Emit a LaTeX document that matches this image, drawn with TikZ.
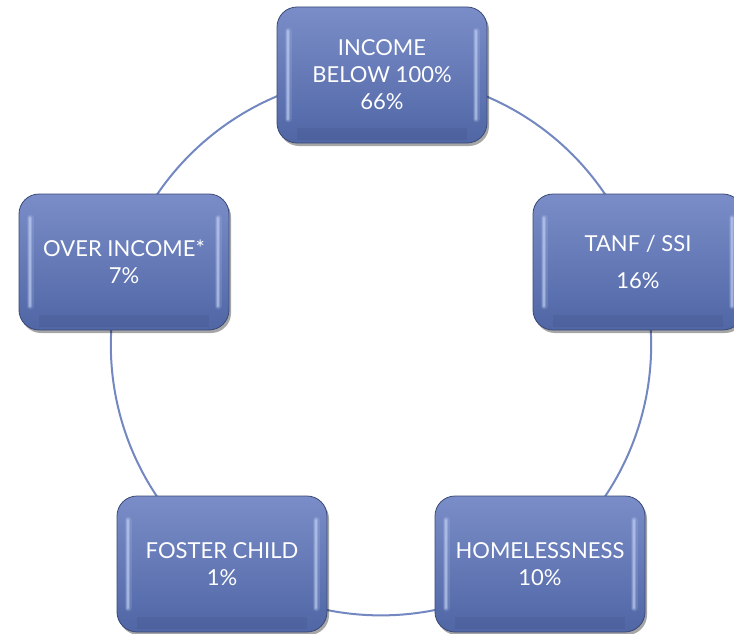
\documentclass[tikz,border=0pt]{standalone}
\usepackage{fontspec}
\setmainfont{Lato}
\usetikzlibrary{shadows,backgrounds}
\definecolor{boxtop}{HTML}{7A8DC8}
\definecolor{boxbot}{HTML}{5066A5}
\definecolor{boxedge}{HTML}{3A4A76}
\definecolor{ring}{HTML}{7387C0}
\definecolor{glint}{HTML}{C8D6F8}
\tikzset{
  stagebox/.style={rounded corners=20pt, minimum width=210pt, minimum height=136pt,
    top color=boxtop, bottom color=boxbot, draw=boxedge, line width=0.8pt,
    text=white, align=center, font=\fontsize{22}{27}\selectfont,
    drop shadow={shadow xshift=2pt, shadow yshift=-3pt, opacity=0.35, fill=black},
    path picture={
      \foreach \w/\o in {7pt/.15, 4pt/.3, 2pt/.45}{
        \draw[glint, opacity=\o, line width=\w, line cap=round]
          ([xshift=11pt,yshift=-24pt]path picture bounding box.north west) --
          ([xshift=11pt,yshift=24pt]path picture bounding box.south west);
        \draw[glint, opacity=\o, line width=\w, line cap=round]
          ([xshift=-11pt,yshift=-24pt]path picture bounding box.north east) --
          ([xshift=-11pt,yshift=24pt]path picture bounding box.south east);
      }
      \draw[black, opacity=.05, line width=12pt]
        ([xshift=20pt,yshift=9pt]path picture bounding box.south west) --
        ([xshift=-20pt,yshift=9pt]path picture bounding box.south east);
    }},
  ringline/.style={draw=ring, line width=2pt, bend left=36, looseness=0.94}
}
\begin{document}
\begin{tikzpicture}[x=1pt,y=-1pt]
  \useasboundingbox (0,0) rectangle (734,634);
  \node[stagebox] (inc) at (382,75) {INCOME\\BELOW 100\%\\66\%};
  \node[stagebox] (tanf) at (638,262) {TANF / SSI\\[10pt]16\%};
  \node[stagebox] (home) at (540,564) {HOMELESSNESS\\10\%};
  \node[stagebox] (fost) at (222,564) {FOSTER CHILD\\1\%};
  \node[stagebox] (over) at (124,262) {OVER INCOME*\\7\%};
  \begin{scope}[on background layer]
    \draw[ringline] (inc.center) to (tanf.center);
    \draw[ringline] (tanf.center) to (home.center);
    \draw[ringline] (home.center) to (fost.center);
    \draw[ringline] (fost.center) to (over.center);
    \draw[ringline] (over.center) to (inc.center);
  \end{scope}
\end{tikzpicture}
\end{document}
